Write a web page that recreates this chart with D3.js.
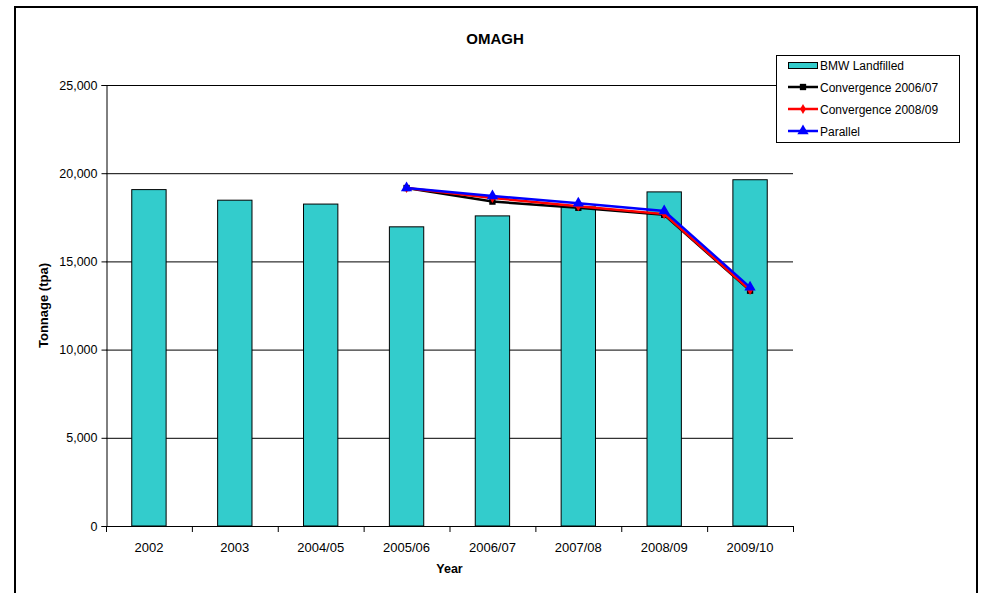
<!DOCTYPE html>
<html>
<head>
<meta charset="utf-8">
<script src="https://cdn.jsdelivr.net/npm/d3@7"></script>
<style>
  body { margin: 0; background: #fff; }
  svg text { font-family: Arial, "Liberation Sans", sans-serif; fill: #000; }
</style>
</head>
<body>
<svg id="chart" width="981" height="593"></svg>
<script>
var years = ["2002", "2003", "2004/05", "2005/06", "2006/07", "2007/08", "2008/09", "2009/10"];
var landfilled = [19070, 18470, 18250, 16960, 17580, 18090, 18940, 19630];
var conv0607 = [null, null, null, 19160, 18390, 18040, 17640, 13340];
var conv0809 = [null, null, null, 19160, 18600, 18130, 17680, 13380];
var parallel = [null, null, null, 19160, 18710, 18290, 17860, 13530];
var yTicks = [0, 5000, 10000, 15000, 20000, 25000];

var colors = {
	bar: "#33cccc",
	conv0607: "#000000",
	conv0809: "#ff0000",
	parallel: "#0000ff"
};

var plot = { left: 106, right: 793, top: 85, bottom: 526 };

var svg = d3.select("#chart");

// outer chart border (bottom edge falls outside the picture)
svg.append("path")
	.attr("d", "M15,600 L15,7 L977,7 L977,600")
	.attr("fill", "none")
	.attr("stroke", "#000")
	.attr("stroke-width", 2);

var x = d3.scaleBand().domain(years).range([plot.left, plot.right]);
var y = d3.scaleLinear().domain([0, 25000]).range([plot.bottom, plot.top]);

// gridlines
svg.append("g").selectAll("line")
	.data(yTicks.filter(function(d) { return d > 0; }))
	.enter().append("line")
	.attr("x1", plot.left).attr("x2", plot.right)
	.attr("y1", function(d) { return y(d) + 0.5; })
	.attr("y2", function(d) { return y(d) + 0.5; })
	.attr("stroke", "#000").attr("stroke-width", 1);

// bars
var bw = x.bandwidth() * 0.4;
svg.append("g").selectAll("rect")
	.data(landfilled)
	.enter().append("rect")
	.attr("x", function(d, i) { return x(years[i]) + x.bandwidth() / 2 - bw / 2; })
	.attr("y", function(d) { return y(d); })
	.attr("width", bw)
	.attr("height", function(d) { return y(0) - y(d); })
	.attr("fill", colors.bar)
	.attr("stroke", "#000").attr("stroke-width", 1);

// y axis
var yAxis = d3.axisLeft(y).tickValues(yTicks).tickFormat(d3.format(",")).tickSize(5).tickPadding(4);
var yg = svg.append("g").attr("transform", "translate(" + (plot.left + 0.5) + ",0)").call(yAxis);
yg.selectAll(".domain").attr("stroke", "#000");
yg.selectAll(".tick line").attr("stroke", "#000");
yg.selectAll(".tick text").style("font-size", "12.5px");

// x axis
svg.append("line")
	.attr("x1", plot.left).attr("x2", plot.right)
	.attr("y1", plot.bottom + 0.5).attr("y2", plot.bottom + 0.5)
	.attr("stroke", "#000");

svg.append("g").selectAll("line")
	.data(d3.range(years.length + 1))
	.enter().append("line")
	.attr("x1", function(i) { return plot.left + i * x.step() + 0.5; })
	.attr("x2", function(i) { return plot.left + i * x.step() + 0.5; })
	.attr("y1", plot.bottom).attr("y2", plot.bottom + 6)
	.attr("stroke", "#000");

svg.append("g").selectAll("text")
	.data(years)
	.enter().append("text")
	.attr("x", function(d) { return x(d) + x.bandwidth() / 2; })
	.attr("y", plot.bottom + 26)
	.attr("text-anchor", "middle")
	.style("font-size", "13px")
	.text(function(d) { return d; });

// lines
var series = [
	{ name: "Convergence 2006/07", values: conv0607, color: colors.conv0607, marker: d3.symbolSquare, size: 40 },
	{ name: "Convergence 2008/09", values: conv0809, color: colors.conv0809, marker: d3.symbolDiamond, size: 30 },
	{ name: "Parallel", values: parallel, color: colors.parallel, marker: d3.symbolTriangle, size: 55 }
];

var line = d3.line()
	.defined(function(d) { return d != null; })
	.x(function(d, i) { return x(years[i]) + x.bandwidth() / 2; })
	.y(function(d) { return y(d); });

series.forEach(function(s) {
	svg.append("path")
		.attr("d", line(s.values))
		.attr("fill", "none")
		.attr("stroke", s.color)
		.attr("stroke-width", 2.5);
	svg.append("g").selectAll("path")
		.data(s.values.map(function(v, i) { return { v: v, i: i }; }).filter(function(d) { return d.v != null; }))
		.enter().append("path")
		.attr("d", d3.symbol().type(s.marker).size(s.size))
		.attr("transform", function(d) { return "translate(" + (x(years[d.i]) + x.bandwidth() / 2) + "," + y(d.v) + ")"; })
		.attr("fill", s.color);
});

// titles
svg.append("text")
	.attr("x", 495).attr("y", 44)
	.attr("text-anchor", "middle")
	.style("font-size", "15px").style("font-weight", "bold")
	.text("OMAGH");

svg.append("text")
	.attr("transform", "translate(48," + ((plot.top + plot.bottom) / 2) + ") rotate(-90)")
	.attr("text-anchor", "middle")
	.style("font-size", "13px").style("font-weight", "bold")
	.text("Tonnage (tpa)");

svg.append("text")
	.attr("x", (plot.left + plot.right) / 2).attr("y", 573)
	.attr("text-anchor", "middle")
	.style("font-size", "12.5px").style("font-weight", "bold")
	.text("Year");

// legend
var lg = svg.append("g").attr("transform", "translate(776,55)");
lg.append("rect")
	.attr("x", 0.5).attr("y", 0.5)
	.attr("width", 183).attr("height", 87)
	.attr("fill", "#fff").attr("stroke", "#000");

lg.append("rect")
	.attr("x", 12.5).attr("y", 7.5)
	.attr("width", 29).attr("height", 6)
	.attr("fill", colors.bar).attr("stroke", "#000");
lg.append("text")
	.attr("x", 44).attr("y", 14.5)
	.style("font-size", "12px")
	.text("BMW Landfilled");

series.forEach(function(s, i) {
	var cy = 32 + i * 22;
	lg.append("line")
		.attr("x1", 12).attr("x2", 42)
		.attr("y1", cy).attr("y2", cy)
		.attr("stroke", s.color).attr("stroke-width", 2.5);
	lg.append("path")
		.attr("d", d3.symbol().type(s.marker).size(s.size))
		.attr("transform", "translate(27," + cy + ")")
		.attr("fill", s.color);
	lg.append("text")
		.attr("x", 44).attr("y", cy + 4.5)
		.style("font-size", "12px")
		.text(s.name);
});
</script>
</body>
</html>
